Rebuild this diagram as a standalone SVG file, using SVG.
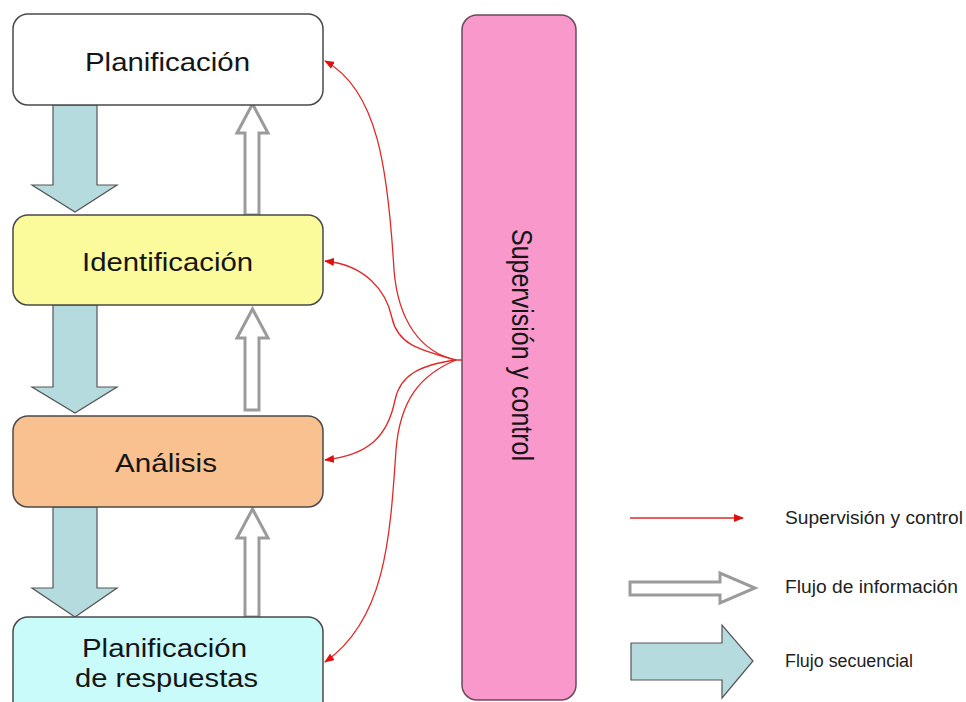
<svg xmlns="http://www.w3.org/2000/svg" width="966" height="702" viewBox="0 0 966 702">
  <style>
    .box { stroke: #4a4a4a; stroke-width: 1.5; }
    .lbl { font-family: "Liberation Sans", Arial, sans-serif; font-size: 25px; fill: #151515; }
    .leg { font-family: "Liberation Sans", Arial, sans-serif; font-size: 18px; fill: #222; }
    .seq { fill: #b5dbdf; stroke: #555; stroke-width: 1.2; stroke-linejoin: miter; }
    .info { fill: #fff; stroke: #9b9b9b; stroke-width: 3; stroke-linejoin: miter; }
    .sup { fill: none; stroke: #e02828; stroke-width: 1.3; marker-end: url(#redHead); }
  </style>
  <defs>
    <marker id="redHead" viewBox="0 0 10 8" refX="9" refY="4" markerWidth="10" markerHeight="8" markerUnits="userSpaceOnUse" orient="auto">
      <path d="M0,0 L10,4 L0,8 z" fill="#e01010"/>
    </marker>
  </defs>
  <rect width="966" height="702" fill="#fff"/>

  <!-- sequential flow arrows (down) and information flow arrows (up) -->
  <g id="flows">
    <polygon class="seq" points="53,105 97,105 97,185 117,185 75,212 32,185 53,185"/>
    <polygon class="seq" points="53,305 97,305 97,387 117,387 75,413 32,387 53,387"/>
    <polygon class="seq" points="53,507 97,507 97,588 117,588 75,617 32,588 53,588"/>
    <polygon class="info" points="245,215 259,215 259,133 268,133 252.5,104 237,133 245,133"/>
    <polygon class="info" points="245,410 259,410 259,338 268,338 252.5,309 237,338 245,338"/>
    <polygon class="info" points="245,617 259,617 259,538 268,538 252.5,509 237,538 245,538"/>
  </g>

  <g id="planificacion">
    <rect class="box" x="13" y="14" width="310" height="91" rx="15" fill="#ffffff"/>
    <text class="lbl" x="85" y="71" textLength="165" lengthAdjust="spacingAndGlyphs">Planificación</text>
  </g>
  <g id="identificacion">
    <rect class="box" x="13" y="215" width="310" height="90" rx="15" fill="#fbfb9c"/>
    <text class="lbl" x="82" y="271" textLength="171" lengthAdjust="spacingAndGlyphs">Identificación</text>
  </g>
  <g id="analisis">
    <rect class="box" x="13" y="416" width="310" height="91" rx="15" fill="#f9c18f"/>
    <text class="lbl" x="115" y="472" textLength="102" lengthAdjust="spacingAndGlyphs">Análisis</text>
  </g>
  <g id="respuestas">
    <rect class="box" x="13" y="617" width="310" height="100" rx="15" fill="#c9fbfb"/>
    <text class="lbl" x="82" y="657" textLength="165" lengthAdjust="spacingAndGlyphs">Planificación</text>
    <text class="lbl" x="75" y="687" textLength="183" lengthAdjust="spacingAndGlyphs">de respuestas</text>
  </g>

  <g id="supervision">
    <rect x="462" y="15" width="114" height="685" rx="15" fill="#f998ca" stroke="#6a4a5c" stroke-width="1.5"/>
    <text class="lbl" text-anchor="middle" transform="translate(512,345) scale(1.15,1) rotate(90)">Supervisión y control</text>
  </g>

  <!-- supervision and control connectors -->
  <g id="connectors">
    <path class="sup" d="M462,360 L456,360 C420,352 398,320 394,270 C388,170 378,90 325,61"/>
    <path class="sup" d="M456,360 C420,350 398,345 392,318 C386,290 365,265 325,261"/>
    <path class="sup" d="M456,360 C420,365 400,375 395,400 C388,435 370,455 325,460"/>
    <path class="sup" d="M456,360 C420,375 400,400 396,450 C390,540 385,620 325,662"/>
  </g>

  <g id="legend">
    <path class="sup" d="M630,518 L743,518"/>
    <text class="leg" x="785" y="524" textLength="178" lengthAdjust="spacingAndGlyphs">Supervisión y control</text>
    <polygon class="info" points="630,582 720,582 720,573 755,588 720,603 720,595 630,595"/>
    <text class="leg" x="785" y="593" textLength="173" lengthAdjust="spacingAndGlyphs">Flujo de información</text>
    <polygon class="seq" points="631,643 722,643 722,625 753,661 722,698 722,680 631,680"/>
    <text class="leg" x="785" y="667" textLength="128" lengthAdjust="spacingAndGlyphs">Flujo secuencial</text>
  </g>
</svg>
